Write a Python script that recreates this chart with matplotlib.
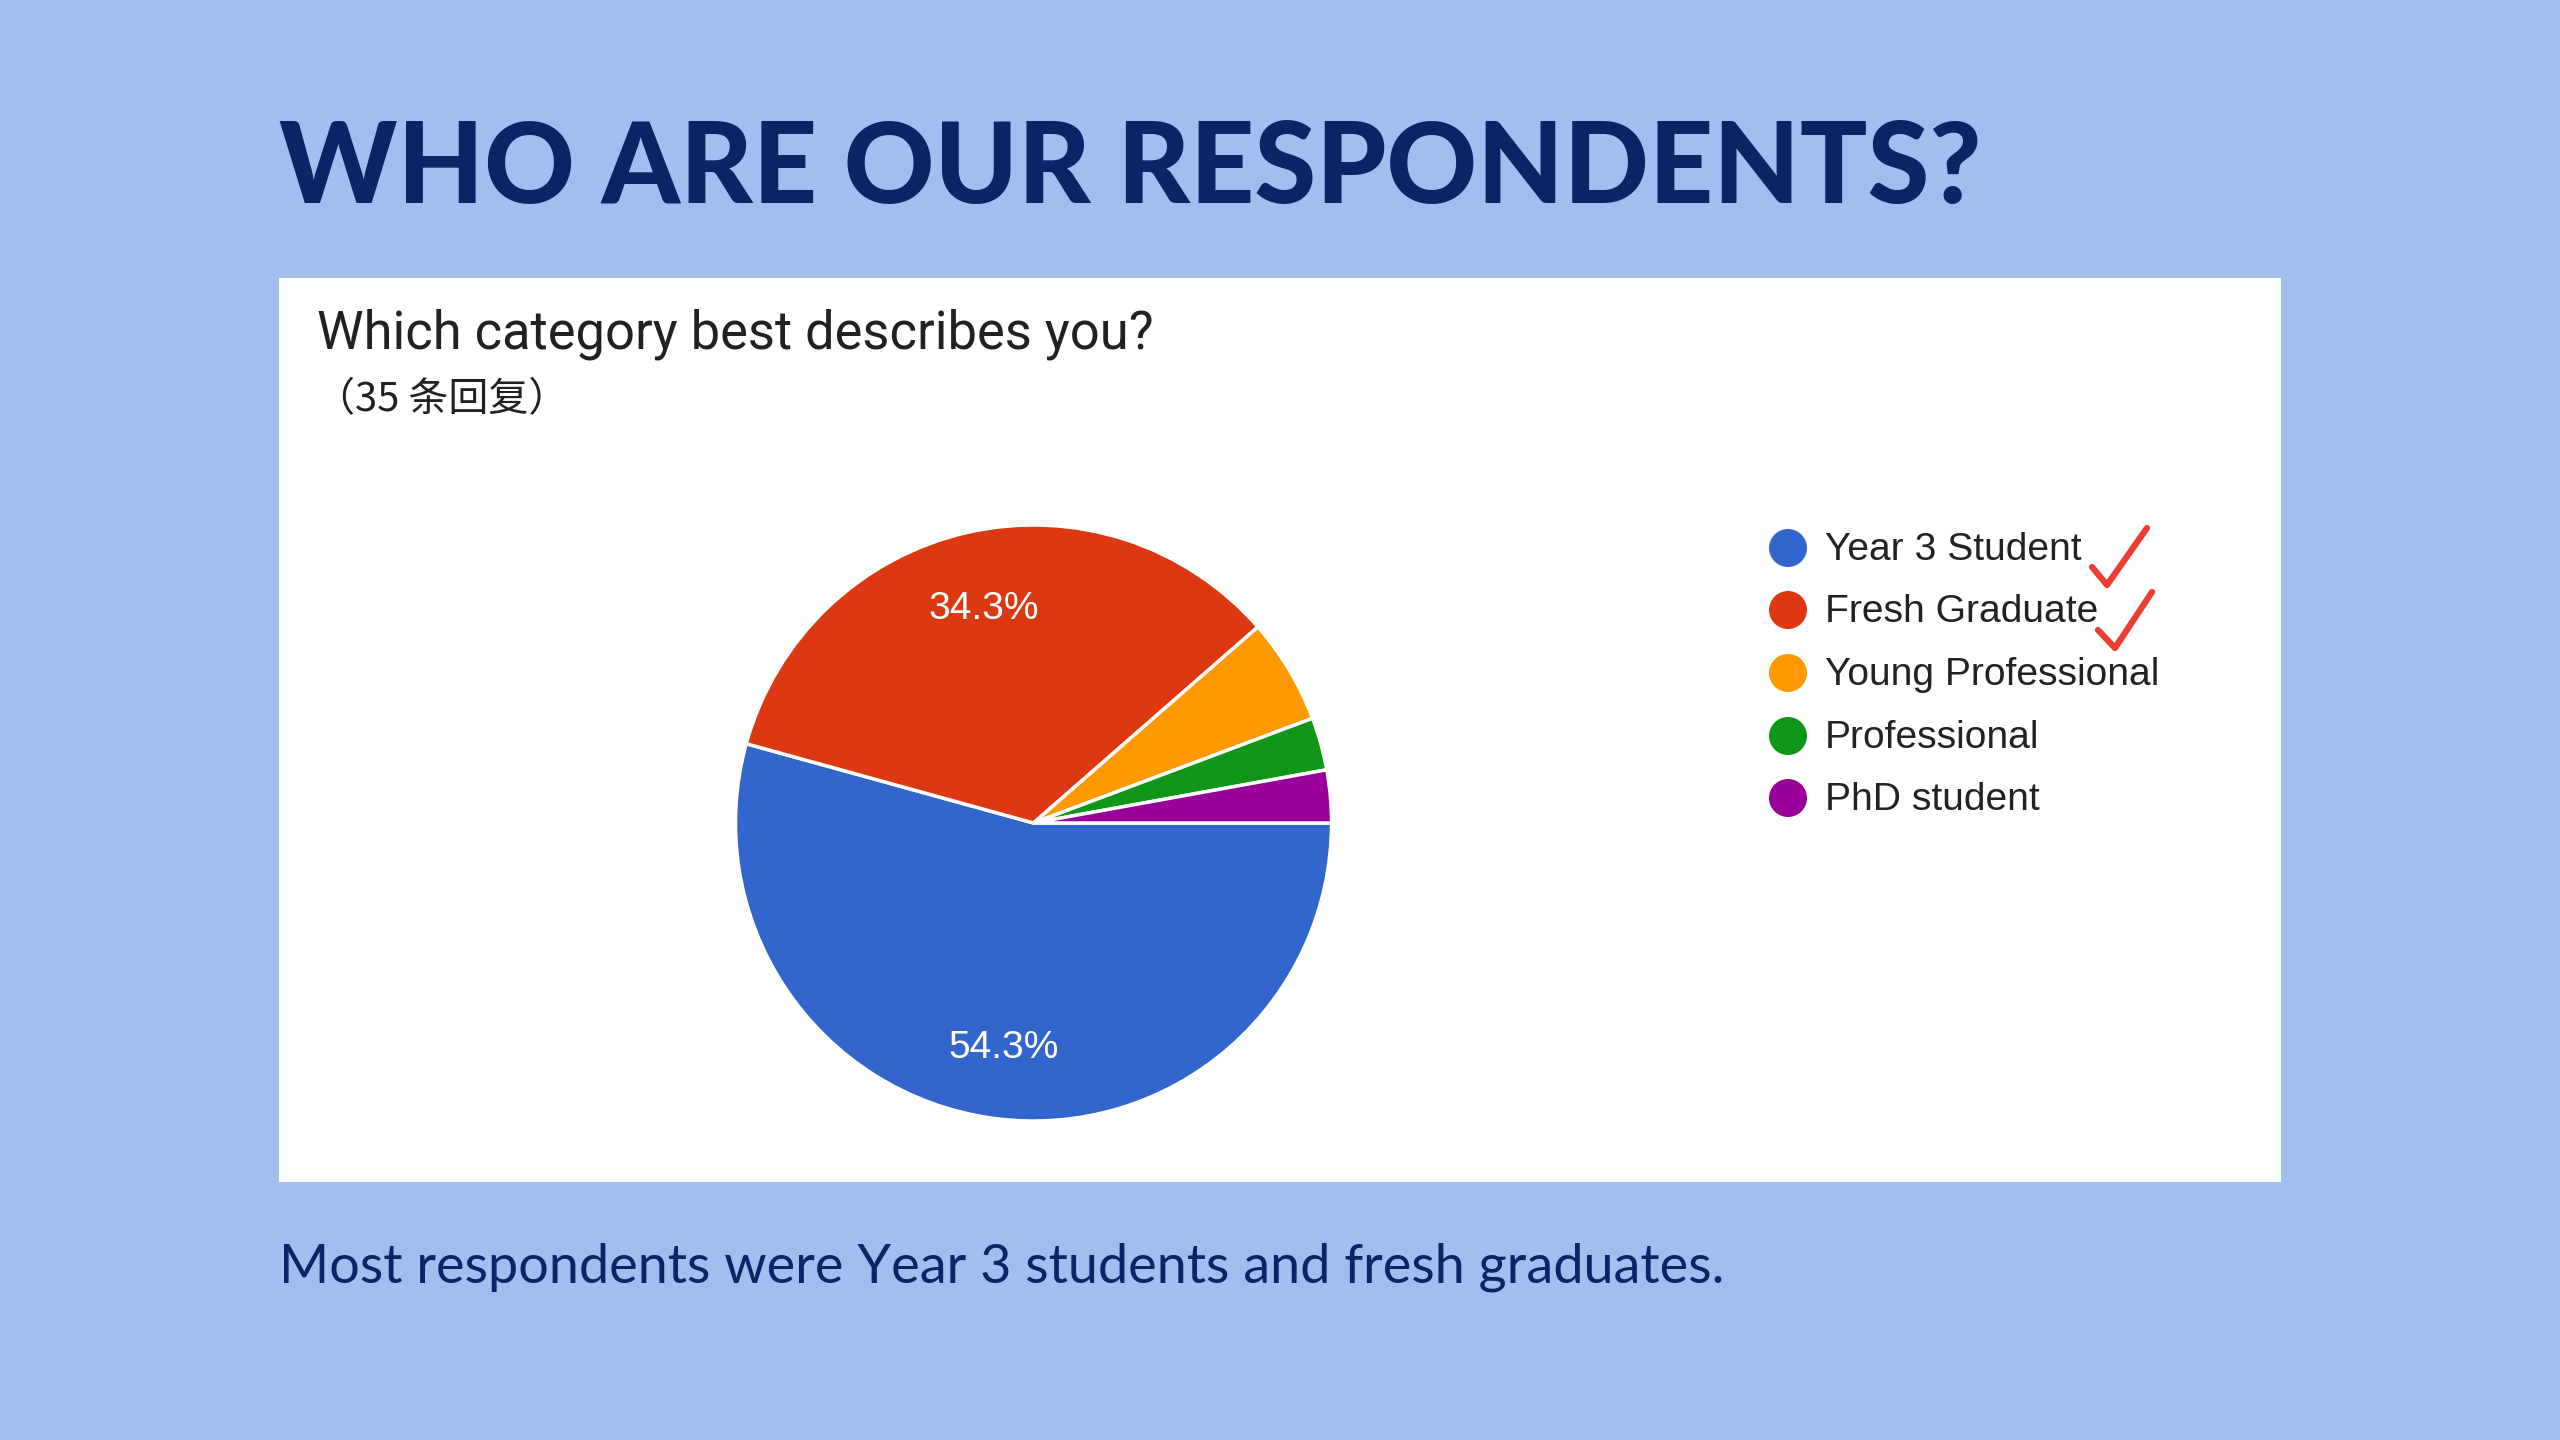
import matplotlib
matplotlib.use("Agg")
import matplotlib.pyplot as plt
from matplotlib.patches import Rectangle

# survey answers (35 responses)
categories = ["Year 3 Student", "Fresh Graduate", "Young Professional", "Professional", "PhD student"]
counts = [19, 12, 2, 1, 1]
colors = ["#3366CC", "#DC3912", "#FF9900", "#109618", "#990099"]
checked = ["Year 3 Student", "Fresh Graduate"]

title = "WHO ARE OUR RESPONDENTS?"
question = "Which category best describes you?"
responses = "（35 条回复）"
summary = "Most respondents were Year 3 students and fresh graduates."

W, H = 2560, 1440
PT = 72 / 100  # px -> pt at dpi 100

fig = plt.figure(figsize=(W / 100, H / 100), dpi=100)
fig.patch.set_facecolor("#A1BFEE")

# background axes in pixel coords (y down)
bg = fig.add_axes([0, 0, 1, 1])
bg.set_xlim(0, W)
bg.set_ylim(H, 0)
bg.axis("off")

bg.add_patch(Rectangle((279, 278), 2002, 904, facecolor="white", edgecolor="none"))

bg.text(279, 203, title, fontsize=112 * PT, family="Lato", fontweight="black",
        color="#0A2566", va="baseline", ha="left")
bg.text(317, 349, question, fontsize=52.5 * PT, family="Roboto",
        color="#202124", va="baseline", ha="left")
bg.text(315, 400, responses, fontsize=40 * PT, family=["Noto Sans CJK SC", "DejaVu Sans"],
        color="#202124", va="center", ha="left")
bg.text(279, 1283, summary, fontsize=54 * PT, family="Lato",
        color="#0A2566", va="baseline", ha="left")

# legend
row_y = [548, 610, 673, 736, 798]
for cat, col, y in zip(categories, colors, row_y):
    bg.scatter([1788], [y], s=(38 * PT) ** 2, color=col, edgecolors="none")
    bg.text(1825, y + 2, cat, fontsize=39 * PT, family="Liberation Sans", color="#222222",
            va="center", ha="left")

# hand-drawn check marks
ticks = {"Year 3 Student": [(2092, 567), (2107, 585), (2147, 528)],
         "Fresh Graduate": [(2098, 630), (2115, 648), (2152, 592)]}
for cat in checked:
    xs, ys = zip(*ticks[cat])
    bg.plot(xs, ys, color="#EE3B33", lw=4.5, solid_capstyle="round", solid_joinstyle="round")

# pie
cx, cy, r = 1033.5, 823, 301
ax = fig.add_axes([(cx - r) / W, 1 - (cy + r) / H, 2 * r / W, 2 * r / H])


def pct(p):
    return "%.1f%%" % p if p > 10 else ""


wedges, texts, autotexts = ax.pie(counts, colors=colors, startangle=0, counterclock=False,
                                  autopct=pct, pctdistance=0.75,
                                  wedgeprops=dict(edgecolor="white", linewidth=2.5))
for t in autotexts:
    t.set_color("white")
    t.set_fontsize(39 * PT)
    t.set_family("Liberation Sans")
    t.set_va("center_baseline")
ax.set_xlim(-1.01, 1.01)
ax.set_ylim(-1.01, 1.01)
ax.set_aspect("equal")

plt.savefig("out.png", dpi=100)
